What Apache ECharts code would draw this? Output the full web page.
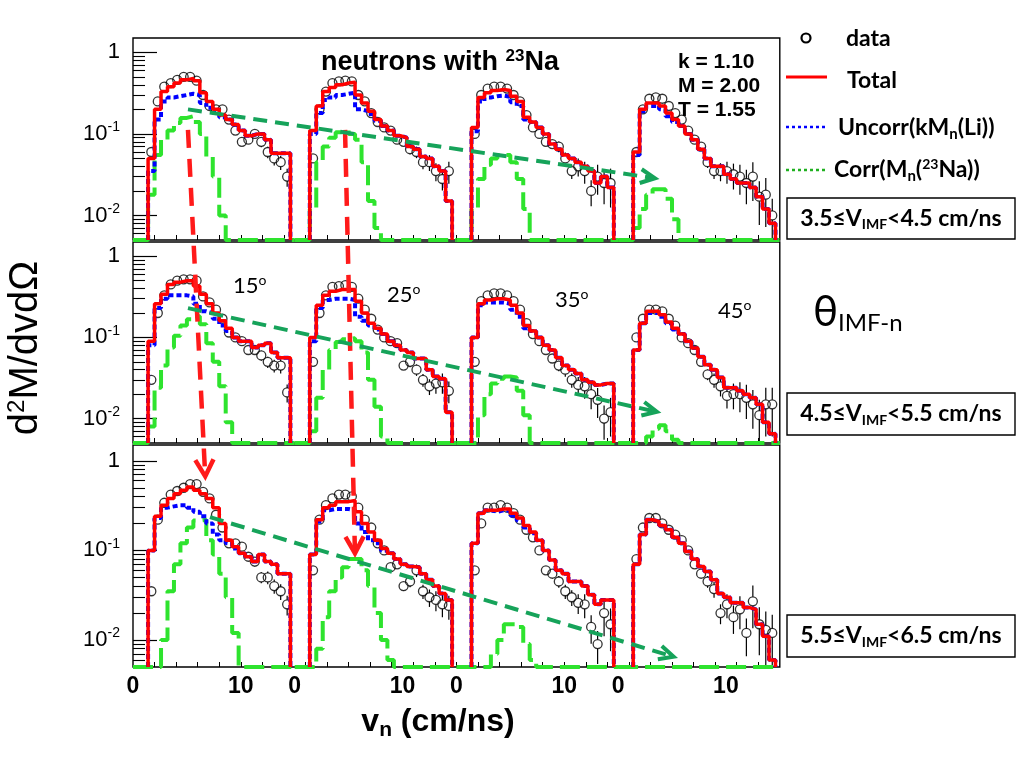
<!DOCTYPE html>
<html><head><meta charset="utf-8">
<script src="https://cdn.jsdelivr.net/npm/echarts@6/dist/echarts.min.js"></script>
<style>html,body{margin:0;padding:0;background:#fff}#c{width:1024px;height:768px}</style>
</head><body><div id="c"></div>
<script>
// ---------------- data ----------------
// histogram bins (lower edges, cm/ns) and bin width
const binLow = [1.4,2.0,2.6,3.2,3.8,4.4,5.0,5.6,6.2,6.8,7.4,8.0,8.6,9.2,9.8,10.4,11.0,11.6,12.2,12.8,13.4,14.0];
const binWidth = 0.6;
const angleLabels = ['15','25','35','45'];
const vimfLabels = ['3.5≤V{sub|IMF}<4.5 cm/ns','4.5≤V{sub|IMF}<5.5 cm/ns','5.5≤V{sub|IMF}<6.5 cm/ns'];
const paramLabels = ['k = 1.10','M = 2.00','T = 1.55'];
const yTickValues = [0.01, 0.1, 1];
const yMinorTicks = [0.006,0.007,0.008,0.009,0.02,0.03,0.04,0.05,0.06,0.07,0.08,0.09,0.2,0.3,0.4,0.5,0.6,0.7,0.8,0.9];
const xLabelValues = [0, 10];
const xTickValues = [[2,4,6,8,10,12,14],[1,3,5,7,9,11,13],[0,2,4,6,8,10,12,14],[1,3,5,7,9,11,13]];

// row 1 : 3.5<=V_IMF<4.5
const total_r1_15  = [0.05,0.2,0.33,0.38,0.42,0.46,0.48,0.45,0.32,0.25,0.2,0.17,0.15,0.13,0.11,0.095,0.1,0.1,0.085,0.058,0.058,0.058];
const uncorr_r1_15 = [0.035,0.15,0.25,0.28,0.29,0.3,0.31,0.3,0.24,0.21,0.18,0.16,0.15,0.13,0.11,0.095,0.1,0.1,0.085,0.058,0.058,0.058];
const corr_r1_15   = [0.018,0.055,0.085,0.11,0.136,0.157,0.165,0.14,0.1,0.052,0.03,0.01,0,0,0,0,0,0,0,0,0,0];
const data_r1_15   = [0.06,0.25,0.38,0.42,0.46,0.5,0.5,0.45,0.3,0.22,0.2,0.2,0.15,0.11,0.08,0.085,0.1,0.08,0.06,0.05,0.045,0.03];

const total_r1_25  = [0.11,0.22,0.33,0.37,0.4,0.42,0.43,0.3,0.24,0.19,0.15,0.125,0.11,0.095,0.09,0.07,0.065,0.053,0.05,0.04,0.035,0.015];
const uncorr_r1_25 = [0.1,0.18,0.26,0.28,0.3,0.31,0.32,0.2,0.19,0.175,0.145,0.125,0.11,0.095,0.09,0.07,0.065,0.053,0.05,0.04,0.035,0.015];
const corr_r1_25   = [0.012,0.045,0.07,0.09,0.105,0.11,0.1,0.085,0.045,0.015,0.007,0,0,0,0,0,0,0,0,0,0,0];
const data_r1_25   = [0.05,0.2,0.33,0.42,0.44,0.45,0.44,0.3,0.25,0.18,0.14,0.12,0.11,0.085,0.08,0.065,0.06,0.045,0.045,0.035,0.028,0.035];

const total_r1_35  = [0.12,0.28,0.32,0.34,0.35,0.34,0.29,0.25,0.16,0.14,0.12,0.1,0.075,0.065,0.055,0.05,0.045,0.04,0.035,0.025,0.03,0.022];
const uncorr_r1_35 = [0.108,0.25,0.28,0.29,0.295,0.285,0.245,0.22,0.15,0.14,0.12,0.1,0.075,0.065,0.055,0.05,0.045,0.04,0.035,0.025,0.03,0.022];
const corr_r1_35   = [0.012,0.028,0.042,0.05,0.055,0.055,0.045,0.028,0.012,0,0,0,0,0,0,0,0,0,0,0,0,0];
const data_r1_35   = [0.1,0.3,0.36,0.38,0.38,0.36,0.3,0.25,0.17,0.12,0.1,0.08,0.075,0.07,0.05,0.035,0.04,0.035,0.02,0.03,0.025,0.025];

const total_r1_45  = [0.06,0.2,0.24,0.24,0.22,0.18,0.15,0.125,0.1,0.085,0.065,0.05,0.04,0.04,0.032,0.028,0.025,0.025,0.022,0.017,0.012,0.008];
const uncorr_r1_45 = [0.055,0.19,0.22,0.22,0.2,0.165,0.14,0.125,0.1,0.085,0.065,0.05,0.04,0.04,0.032,0.028,0.025,0.025,0.022,0.017,0.012,0.008];
const corr_r1_45   = [0.007,0.012,0.018,0.021,0.021,0.016,0.009,0,0,0,0,0,0,0,0,0,0,0,0,0,0,0];
const data_r1_45   = [0.06,0.2,0.27,0.28,0.27,0.22,0.18,0.15,0.11,0.085,0.07,0.045,0.035,0.035,0.035,0.032,0.03,0.025,0.03,0.017,0.018,0.01];

// row 2 : 4.5<=V_IMF<5.5
const total_r2_15  = [0.09,0.26,0.34,0.45,0.48,0.5,0.5,0.43,0.34,0.26,0.2,0.16,0.13,0.1,0.09,0.09,0.075,0.08,0.085,0.065,0.056,0.056];
const uncorr_r2_15 = [0.08,0.23,0.3,0.33,0.33,0.33,0.32,0.26,0.21,0.2,0.17,0.14,0.12,0.1,0.09,0.09,0.075,0.08,0.085,0.065,0.056,0.056];
const corr_r2_15   = [0.008,0.024,0.045,0.075,0.105,0.14,0.168,0.183,0.145,0.085,0.05,0.025,0.009,0,0,0,0,0,0,0,0,0];
const data_r2_15   = [0.03,0.2,0.33,0.45,0.5,0.52,0.52,0.5,0.32,0.27,0.22,0.17,0.115,0.1,0.09,0.07,0.07,0.06,0.05,0.045,0.045,0.021];

const total_r2_25  = [0.1,0.25,0.33,0.37,0.39,0.39,0.39,0.28,0.2,0.15,0.13,0.11,0.09,0.08,0.07,0.065,0.055,0.055,0.04,0.033,0.031,0.012];
const uncorr_r2_25 = [0.09,0.23,0.29,0.3,0.3,0.3,0.29,0.18,0.16,0.14,0.125,0.11,0.09,0.08,0.07,0.065,0.055,0.055,0.04,0.033,0.031,0.012];
const corr_r2_25   = [0.007,0.018,0.04,0.07,0.088,0.095,0.098,0.09,0.065,0.03,0.014,0.006,0,0,0,0,0,0,0,0,0,0];
const data_r2_25   = [0.05,0.2,0.33,0.42,0.43,0.44,0.42,0.3,0.22,0.17,0.125,0.1,0.09,0.085,0.045,0.05,0.04,0.03,0.025,0.027,0.028,0.022];

const total_r2_35  = [0.1,0.26,0.29,0.3,0.3,0.29,0.25,0.2,0.14,0.12,0.1,0.08,0.07,0.056,0.045,0.04,0.036,0.03,0.028,0.026,0.027,0.027];
const uncorr_r2_35 = [0.1,0.25,0.27,0.27,0.27,0.26,0.22,0.18,0.13,0.12,0.1,0.08,0.07,0.056,0.045,0.04,0.036,0.03,0.028,0.026,0.027,0.027];
const corr_r2_35   = [0,0.011,0.02,0.027,0.031,0.033,0.032,0.022,0.011,0,0,0,0,0,0,0,0,0,0,0,0,0];
const data_r2_35   = [0.05,0.28,0.33,0.35,0.35,0.33,0.28,0.22,0.15,0.11,0.09,0.07,0.055,0.045,0.04,0.03,0.026,0.025,0.02,0.017,0.01,0.012];

const total_r2_45  = [0.07,0.15,0.21,0.21,0.19,0.155,0.13,0.11,0.09,0.074,0.058,0.046,0.04,0.032,0.024,0.024,0.022,0.02,0.018,0.015,0.009,0.0065];
const uncorr_r2_45 = [0.07,0.15,0.2,0.2,0.18,0.15,0.125,0.11,0.09,0.074,0.058,0.046,0.04,0.032,0.024,0.024,0.022,0.02,0.018,0.015,0.009,0.0065];
const corr_r2_45   = [0,0,0.006,0.0075,0.0083,0.007,0.0055,0,0,0,0,0,0,0,0,0,0,0,0,0,0,0];
const data_r2_45   = [0.1,0.17,0.22,0.22,0.21,0.17,0.14,0.1,0.085,0.07,0.05,0.035,0.03,0.025,0.019,0.02,0.02,0.018,0.015,0.011,0.015,0.015];

// row 3 : 5.5<=V_IMF<6.5
const total_r3_15  = [0.1,0.24,0.32,0.38,0.43,0.47,0.51,0.47,0.43,0.38,0.3,0.2,0.13,0.11,0.093,0.085,0.075,0.09,0.075,0.07,0.055,0.055];
const uncorr_r3_15 = [0.1,0.23,0.3,0.31,0.32,0.32,0.3,0.27,0.24,0.2,0.15,0.13,0.12,0.105,0.093,0.085,0.075,0.09,0.075,0.07,0.055,0.055];
const corr_r3_15   = [0,0,0.01,0.035,0.07,0.12,0.18,0.215,0.22,0.13,0.09,0.055,0.03,0.012,0,0,0,0,0,0,0,0];
const data_r3_15   = [0.035,0.22,0.34,0.42,0.46,0.5,0.55,0.55,0.45,0.38,0.25,0.18,0.12,0.12,0.11,0.085,0.075,0.05,0.05,0.04,0.035,0.025];

const total_r3_25  = [0.09,0.22,0.3,0.32,0.35,0.35,0.36,0.27,0.2,0.16,0.13,0.105,0.093,0.08,0.07,0.066,0.065,0.055,0.047,0.04,0.033,0.028];
const uncorr_r3_25 = [0.09,0.21,0.28,0.29,0.29,0.29,0.28,0.2,0.16,0.13,0.12,0.1,0.093,0.08,0.07,0.066,0.065,0.055,0.047,0.04,0.033,0.028];
const corr_r3_25   = [0,0.008,0.018,0.035,0.05,0.065,0.08,0.08,0.06,0.04,0.02,0.01,0.006,0,0,0,0,0,0,0,0,0];
const data_r3_25   = [0.06,0.22,0.32,0.38,0.42,0.42,0.4,0.3,0.22,0.18,0.12,0.1,0.065,0.07,0.04,0.045,0.06,0.035,0.03,0.028,0.025,0.024];

const total_r3_35  = [0.12,0.26,0.28,0.28,0.29,0.29,0.26,0.23,0.19,0.16,0.13,0.1,0.078,0.06,0.055,0.045,0.045,0.04,0.032,0.025,0.028,0.028];
const uncorr_r3_35 = [0.12,0.26,0.28,0.27,0.28,0.275,0.245,0.215,0.18,0.155,0.13,0.1,0.078,0.06,0.055,0.045,0.045,0.04,0.032,0.025,0.028,0.028];
const corr_r3_35   = [0,0,0,0.007,0.01,0.015,0.015,0.014,0.009,0.006,0,0,0,0,0,0,0,0,0,0,0,0];
const data_r3_35   = [0.06,0.2,0.3,0.3,0.32,0.3,0.26,0.22,0.17,0.14,0.1,0.06,0.055,0.045,0.035,0.03,0.026,0.025,0.014,0.009,0.02,0.015];

const total_r3_45  = [0.07,0.15,0.22,0.21,0.19,0.17,0.14,0.12,0.097,0.08,0.066,0.058,0.047,0.033,0.03,0.026,0.026,0.023,0.022,0.015,0.011,0.006];
const uncorr_r3_45 = [0.07,0.15,0.22,0.21,0.19,0.17,0.14,0.12,0.097,0.08,0.066,0.058,0.047,0.033,0.03,0.026,0.026,0.023,0.022,0.015,0.011,0.006];
const corr_r3_45   = [0,0,0,0,0,0,0,0,0,0,0,0,0,0,0,0,0,0,0,0,0,0];
const data_r3_45   = [0.08,0.18,0.23,0.23,0.2,0.17,0.15,0.13,0.1,0.07,0.055,0.045,0.037,0.02,0.025,0.018,0.022,0.012,0.027,0.015,0.013,0.012];

// relative statistical errors of data points, per angle
const relErr_15 = [0.05,0.03,0.02,0.02,0.02,0.02,0.02,0.02,0.03,0.03,0.04,0.05,0.06,0.07,0.08,0.1,0.12,0.14,0.16,0.18,0.2,0.25];
const relErr_25 = [0.06,0.03,0.02,0.02,0.02,0.02,0.02,0.03,0.03,0.04,0.05,0.06,0.08,0.1,0.12,0.14,0.16,0.18,0.22,0.25,0.28,0.3];
const relErr_35 = [0.06,0.03,0.02,0.02,0.02,0.03,0.03,0.04,0.05,0.06,0.08,0.1,0.12,0.15,0.18,0.2,0.25,0.3,0.35,0.4,0.45,0.5];
const relErr_45 = [0.08,0.04,0.03,0.03,0.03,0.04,0.05,0.06,0.08,0.1,0.12,0.15,0.2,0.25,0.3,0.35,0.4,0.45,0.5,0.55,0.6,0.6];

// annotation arrows: [row, angle column, v, dM]
const redArrows = [
  {from:[0,0,5.1,0.112], to:[2,0,6.7,0.67]},
  {from:[0,1,4.67,0.112], to:[2,1,5.59,0.093]}
];
const greenArrows = [
  {from:[0,0,5.1,0.2], to:[0,3,3.42,0.0286]},
  {from:[1,0,5.1,0.23], to:[1,3,3.6,0.0121]},
  {from:[2,0,7.14,0.235], to:[2,3,5.15,0.0065]}
];

// ---------------- build ----------------
const panels = [
  [{t:total_r1_15,u:uncorr_r1_15,c:corr_r1_15,d:data_r1_15},{t:total_r1_25,u:uncorr_r1_25,c:corr_r1_25,d:data_r1_25},{t:total_r1_35,u:uncorr_r1_35,c:corr_r1_35,d:data_r1_35},{t:total_r1_45,u:uncorr_r1_45,c:corr_r1_45,d:data_r1_45}],
  [{t:total_r2_15,u:uncorr_r2_15,c:corr_r2_15,d:data_r2_15},{t:total_r2_25,u:uncorr_r2_25,c:corr_r2_25,d:data_r2_25},{t:total_r2_35,u:uncorr_r2_35,c:corr_r2_35,d:data_r2_35},{t:total_r2_45,u:uncorr_r2_45,c:corr_r2_45,d:data_r2_45}],
  [{t:total_r3_15,u:uncorr_r3_15,c:corr_r3_15,d:data_r3_15},{t:total_r3_25,u:uncorr_r3_25,c:corr_r3_25,d:data_r3_25},{t:total_r3_35,u:uncorr_r3_35,c:corr_r3_35,d:data_r3_35},{t:total_r3_45,u:uncorr_r3_45,c:corr_r3_45,d:data_r3_45}]
];
const relErrs = [relErr_15, relErr_25, relErr_35, relErr_45];

const YMIN = 0.005, YMAX = 1.5, XMIN = 0, XMAX = 15;
const ROOTF = '"Liberation Sans", Arial, Helvetica, sans-serif';
const CALF = 'Lato, "Open Sans", sans-serif';
const RED = '#ff0000', BLUE = '#0000ff', GREEN = '#2ee32e', DKGREEN = '#16a35a';

const rowTop = [38, 242, 445], rowH = [202, 201, 222];
const left0 = 133, colW = 161.7;

function histPoints(vals, full) {
  const pts = [];
  const n = vals.length;
  if (full) pts.push([XMIN, YMIN]);
  pts.push([binLow[0], YMIN]);
  for (let i = 0; i < n; i++) {
    const y = Math.max(vals[i], YMIN);
    pts.push([binLow[i], y], [binLow[i] + binWidth, y]);
  }
  pts.push([binLow[n - 1] + binWidth, YMIN]);
  if (full) pts.push([XMAX, YMIN]);
  return pts;
}

function renderErr(params, api) {
  const x = api.value(0), y = api.value(1), lo = api.value(2), hi = api.value(3);
  const c = api.coord([x, y]), pl = api.coord([x, lo]), ph = api.coord([x, hi]);
  const r = 4.5, ch = [];
  if (ph[1] < c[1] - r) ch.push({type:'line', shape:{x1:c[0], y1:ph[1], x2:c[0], y2:c[1] - r}, style:{stroke:'#000', lineWidth:1.2}});
  if (pl[1] > c[1] + r) ch.push({type:'line', shape:{x1:c[0], y1:c[1] + r, x2:c[0], y2:pl[1]}, style:{stroke:'#000', lineWidth:1.2}});
  return {type:'group', children: ch};
}

const grids = [], xAxes = [], yAxes = [], series = [];
panels.forEach((row, r) => {
  row.forEach((p, c) => {
    const g = grids.length;
    grids.push({left: left0 + c * colW, top: rowTop[r], width: colW, height: rowH[r], show: false, containLabel: false, outerBoundsMode: 'none'});
    xAxes.push({type:'value', gridIndex:g, min:XMIN, max:XMAX, splitLine:{show:false}, axisLine:{show:false},
      axisTick:{show:true, inside:true, length:5, customValues:xTickValues[c], lineStyle:{color:'#000', width:1}},
      axisLabel:{show: r === 2, customValues: xLabelValues, margin: 8, fontSize: 23, fontWeight: 'bold', color: '#000', fontFamily: ROOTF}});
    const yi = yAxes.length;
    yAxes.push({type:'log', gridIndex:g, position:'left', min:YMIN, max:YMAX, splitLine:{show:false}, axisLine:{show:false},
      axisTick:{show: c === 0, inside:true, length:24, customValues:yTickValues, lineStyle:{color:'#000', width:1.2}},
      axisLabel:{show: c === 0, customValues: yTickValues, margin: 13, fontSize: 22, color: '#000', fontFamily: ROOTF,
        formatter: v => { const e = Math.round(Math.log10(v)); return e === 0 ? '1' : '10{sup|' + e + '}'; },
        rich:{sup:{fontSize:14, fontFamily: ROOTF, color:'#000', padding:[0,0,13,0]}}}});
    if (c === 0) {
      yAxes.push({type:'log', gridIndex:g, position:'left', offset:0, min:YMIN, max:YMAX, splitLine:{show:false}, axisLine:{show:false},
        axisTick:{show:true, inside:true, length:12, customValues:yMinorTicks, lineStyle:{color:'#000', width:1.1}},
        axisLabel:{show:false}});
    }
    const errData = p.d.map((v, i) => [binLow[i] + binWidth / 2, v, Math.max(v * (1 - relErrs[c][i]), YMIN), v * (1 + relErrs[c][i])]);
    series.push({type:'custom', xAxisIndex:g, yAxisIndex:yi, renderItem: renderErr, data: errData, z: 1, silent: true, animation:false});
    series.push({type:'scatter', name:'data', xAxisIndex:g, yAxisIndex:yi, symbol:'circle', symbolSize:9,
      data: p.d.map((v, i) => [binLow[i] + binWidth / 2, v]),
      itemStyle:{color:'rgba(255,255,255,0)', borderColor:'#000', borderWidth:1.3}, z: 2, silent: true, animation:false});
    series.push({type:'line', name:'Corr', xAxisIndex:g, yAxisIndex:yi, data: histPoints(p.c, true), symbol:'none', clip:false,
      lineStyle:{color:GREEN, width:4, type:[20,7]}, z: 3, silent:true, animation:false});
    series.push({type:'line', name:'Uncorr', xAxisIndex:g, yAxisIndex:yi, data: histPoints(p.u, false), symbol:'none', clip:false,
      lineStyle:{color:BLUE, width:4, type:[5,3]}, z: 4, silent:true, animation:false});
    series.push({type:'line', name:'Total', xAxisIndex:g, yAxisIndex:yi, data: histPoints(p.t, false), symbol:'none', clip:false,
      lineStyle:{color:RED, width:3.5}, z: 5, silent:true, animation:false});
  });
});
// row frames
for (let r = 0; r < 3; r++) {
  const g = grids.length;
  grids.push({left: left0, top: rowTop[r], width: 4 * colW, height: rowH[r], show: true, borderColor:'#000', borderWidth:1.4, backgroundColor:'transparent', containLabel:false, outerBoundsMode:'none', z: 0});
  xAxes.push({type:'value', gridIndex:g, show:false, min:0, max:1});
  yAxes.push({type:'value', gridIndex:g, show:false, min:0, max:1});
}

function T(x, y, text, o) {
  return Object.assign({type:'text', x, y, z: 50, silent: true, style: Object.assign({text, fill:'#000', align:'left', verticalAlign:'middle'}, o.style)}, o.el || {});
}
const LEG = 23;
const staticGraphics = [
  // y title
  T(26, 348, 'd{sup|2}M/dvdΩ', {el:{rotation: Math.PI / 2}, style:{align:'center', fontSize:40, fontFamily:ROOTF, rich:{sup:{fontSize:24, fontFamily:ROOTF, fill:'#000', padding:[0,0,18,0]}}}}),
  // x title
  T(438, 722, 'v{sub|n} (cm/ns)', {style:{align:'center', fontSize:32, fontWeight:'bold', fontFamily:ROOTF, rich:{sub:{fontSize:21, fontWeight:'bold', fontFamily:ROOTF, fill:'#000', padding:[16,0,0,0]}}}}),
  // title
  T(321, 63, 'neutrons with {sup|23}Na', {style:{fontSize:27, fontWeight:'bold', fontFamily:ROOTF, rich:{sup:{fontSize:17, fontWeight:'bold', fontFamily:ROOTF, fill:'#000', padding:[0,0,14,0]}}}}),
  T(678, 62, paramLabels[0], {style:{fontSize:21, fontWeight:'bold', fontFamily:ROOTF}}),
  T(678, 86, paramLabels[1], {style:{fontSize:21, fontWeight:'bold', fontFamily:ROOTF}}),
  T(678, 110, paramLabels[2], {style:{fontSize:21, fontWeight:'bold', fontFamily:ROOTF}}),
  // legend
  {type:'circle', z:50, silent:true, shape:{cx:806, cy:38, r:4.5}, style:{fill:'none', stroke:'#000', lineWidth:2.2}},
  T(846, 39, 'data', {style:{fontSize:LEG, fontWeight:'bold', fontFamily:CALF}}),
  {type:'polyline', z:50, silent:true, shape:{points:[[786,77],[827,77]]}, style:{fill:null, stroke:RED, lineWidth:3}},
  T(847, 81, 'Total', {style:{fontSize:LEG, fontWeight:'bold', fontFamily:CALF}}),
  {type:'polyline', z:50, silent:true, shape:{points:[[786,127],[827,127]]}, style:{fill:null, stroke:BLUE, lineWidth:2.5, lineDash:[3,3]}},
  T(838, 128, 'Uncorr(kM{sub|n}(Li))', {style:{fontSize:LEG, fontWeight:'bold', fontFamily:CALF, rich:{sub:{fontSize:15, fontWeight:'bold', fontFamily:CALF, fill:'#000', padding:[12,0,0,0]}}}}),
  {type:'polyline', z:50, silent:true, shape:{points:[[786,170],[827,170]]}, style:{fill:null, stroke:'#1fb01f', lineWidth:2.5, lineDash:[3,3]}},
  T(834, 170, 'Corr(M{sub|n}({sup|23}Na))', {style:{fontSize:LEG, fontWeight:'bold', fontFamily:CALF, rich:{sub:{fontSize:15, fontWeight:'bold', fontFamily:CALF, fill:'#000', padding:[12,0,0,0]}, sup:{fontSize:14, fontWeight:'bold', fontFamily:CALF, fill:'#000', padding:[0,0,11,0]}}}}),
  // theta label
  T(813, 312, 'θ{sub|IMF-n}', {style:{fontSize:42, fontFamily:CALF, rich:{sub:{fontSize:24, fontFamily:CALF, fill:'#000', padding:[22,0,0,0]}}}}),
];
// V_IMF boxes
const boxY = [[198, 239], [393, 435], [615, 657]];
boxY.forEach((b, i) => {
  staticGraphics.push({type:'rect', z:50, silent:true, shape:{x:787, y:b[0], width:228, height:b[1] - b[0]}, style:{fill:'#fff', stroke:'#000', lineWidth:1.4}});
  staticGraphics.push(T(901, (b[0] + b[1]) / 2, vimfLabels[i], {style:{align:'center', fontSize:LEG, fontWeight:'bold', fontFamily:CALF, rich:{sub:{fontSize:14, fontWeight:'bold', fontFamily:CALF, fill:'#000', padding:[12,0,0,0]}}}}));
});
// angle labels
const angPos = [[233, 286], [387, 295], [555, 300], [718, 311]];
angleLabels.forEach((a, i) => {
  staticGraphics.push(T(angPos[i][0], angPos[i][1], a + '{sup|o}', {style:{fontSize:22, fontFamily:CALF, rich:{sup:{fontSize:14, fontFamily:CALF, fill:'#000', padding:[0,0,11,0]}}}}));
});

const chart = echarts.init(document.getElementById('c'), null, {renderer:'canvas'});
chart.setOption({
  animation: false,
  backgroundColor: '#fff',
  grid: grids, xAxis: xAxes, yAxis: yAxes, series: series,
  graphic: staticGraphics
});

function px(a) { return chart.convertToPixel({gridIndex: a[0] * 4 + a[1]}, [a[2], a[3]]); }
function arrow(a, color, width, dash, hl, ha) {
  const p0 = px(a.from), p1 = px(a.to);
  const dx = p1[0] - p0[0], dy = p1[1] - p0[1], L = Math.hypot(dx, dy), ux = dx / L, uy = dy / L;
  const cs = Math.cos(ha), sn = Math.sin(ha);
  const end = [p1[0] - ux * 4, p1[1] - uy * 4];
  const a1 = [p1[0] - hl * (ux * cs - uy * sn), p1[1] - hl * (uy * cs + ux * sn)];
  const a2 = [p1[0] - hl * (ux * cs + uy * sn), p1[1] - hl * (uy * cs - ux * sn)];
  return [
    {type:'polyline', z:60, silent:true, shape:{points:[p0, end]}, style:{fill:null, stroke:color, lineWidth:width, lineDash:dash}},
    {type:'polyline', z:60, silent:true, shape:{points:[a1, p1, a2]}, style:{fill:null, stroke:color, lineWidth:width, lineJoin:'miter'}}
  ];
}
let arrowGraphics = [];
redArrows.forEach(a => { arrowGraphics = arrowGraphics.concat(arrow(a, '#ff1a1a', 4.5, [18, 11], 19, 0.5)); });
greenArrows.forEach(a => { arrowGraphics = arrowGraphics.concat(arrow(a, DKGREEN, 4, [14, 8], 16, 0.45)); });
chart.setOption({graphic: staticGraphics.concat(arrowGraphics)});
</script>
</body></html>
